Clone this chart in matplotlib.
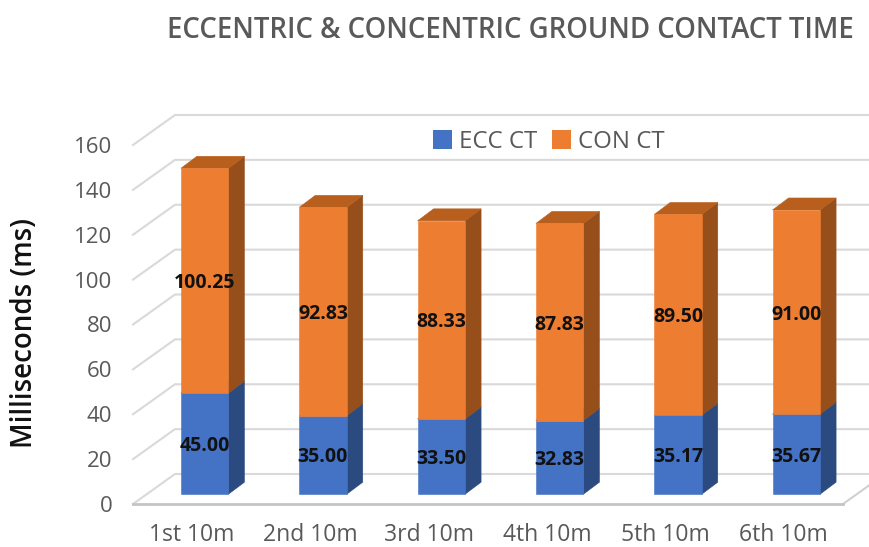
import matplotlib
matplotlib.use("Agg")
import matplotlib.pyplot as plt
from matplotlib.patches import Polygon, Patch

categories = ["1st 10m", "2nd 10m", "3rd 10m", "4th 10m", "5th 10m", "6th 10m"]
ecc_ct = [45.00, 35.00, 33.50, 32.83, 35.17, 35.67]
con_ct = [100.25, 92.83, 88.33, 87.83, 89.50, 91.00]
y_ticks = [0, 20, 40, 60, 80, 100, 120, 140, 160]
title = "ECCENTRIC & CONCENTRIC GROUND CONTACT TIME"
y_label = "Milliseconds (ms)"
series_names = ["ECC CT", "CON CT"]

FONT = "Open Sans"
W, H = 870, 547
fig = plt.figure(figsize=(W / 100, H / 100), dpi=100)
L, R, B, T = 133, 843, 504, 145
ax = fig.add_axes([L / W, (H - B) / H, (R - L) / W, (B - T) / H])
ax.set_xlim(-0.5, 5.5)
ax.set_ylim(0, 160)
for s in ax.spines.values():
    s.set_visible(False)

px_x = (R - L) / 6
px_y = (B - T) / 160
wall_dx, wall_dy = 42 / px_x, 30 / px_y
bar_dx, bar_dy = 16 / px_x, 12 / px_y
bar_shift_x, bar_shift_y = 12.5 / px_x, 9.8 / px_y
bar_w = 47.5 / px_x
label_drop = 2.5 / px_y

grid_c = "#d9d9d9"
for t in y_ticks:
    ax.plot([-0.5, -0.5 + wall_dx, 5.5 + wall_dx], [t, t + wall_dy, t + wall_dy],
            color=grid_c, lw=1.5, clip_on=False, zorder=1, solid_joinstyle="miter")
ax.plot([5.5, 5.5 + wall_dx], [0, wall_dy], color="#d0d0d0", lw=1.5, clip_on=False, zorder=1)
ax.plot([-0.5, 5.5], [0, 0], color="#c4c4c4", lw=2, clip_on=False, zorder=1.5)

def box(x, y0, y1, front, side, top, z):
    xl, xr = x - bar_w / 2, x + bar_w / 2
    ax.add_patch(Polygon([(xr, y0), (xr + bar_dx, y0 + bar_dy), (xr + bar_dx, y1 + bar_dy), (xr, y1)],
                         fc=side, ec=side, lw=0.4, clip_on=False, zorder=z))
    ax.add_patch(Polygon([(xl, y1), (xr, y1), (xr + bar_dx, y1 + bar_dy), (xl + bar_dx, y1 + bar_dy)],
                         fc=top, ec=top, lw=0.4, clip_on=False, zorder=z))
    ax.add_patch(Polygon([(xl, y0), (xr, y0), (xr, y1), (xl, y1)],
                         fc=front, ec=front, lw=0.4, clip_on=False, zorder=z + 0.1))

blue = ("#4472C4", "#2A4A80", "#335A9C")
orange = ("#ED7D31", "#964F1B", "#B85F1E")
for i, (e, c) in enumerate(zip(ecc_ct, con_ct)):
    x = i + bar_shift_x
    box(x, bar_shift_y, bar_shift_y + e, *blue, 2)
    box(x, bar_shift_y + e, bar_shift_y + e + c, *orange, 3)
    ax.text(x, bar_shift_y + e / 2 - label_drop, f"{e:.2f}", ha="center", va="center", fontsize=14,
            fontweight="bold", family=FONT, color="#111111", zorder=6)
    ax.text(x, bar_shift_y + e + c / 2 - label_drop, f"{c:.2f}", ha="center", va="center", fontsize=14,
            fontweight="bold", family=FONT, color="#111111", zorder=6)

ax.set_yticks(y_ticks)
ax.set_xticks(range(6))
ax.set_xticklabels(categories, family=FONT, fontsize=16.5, color="#595959")
ax.tick_params(axis="x", length=0, pad=14)
ax.tick_params(axis="y", length=0, pad=15)
for lab in ax.get_yticklabels():
    lab.set_family(FONT)
    lab.set_fontsize(16)
    lab.set_color("#595959")

fig.text(25 / W, 1 - 333 / H, y_label, rotation=90, ha="center", va="center",
         family=FONT, fontsize=20, fontweight="semibold", color="#111111")
fig.text(510 / W, 1 - 31 / H, title, ha="center", va="center", family=FONT,
         fontsize=19.8, fontweight="semibold", color="#595959")

handles = [Patch(fc=blue[0], ec="none"), Patch(fc=orange[0], ec="none")]
leg = ax.legend(handles, series_names, loc="center", bbox_to_anchor=(549 / W, 1 - 142 / H),
                bbox_transform=fig.transFigure, ncol=2, frameon=False, handlelength=0.8, handleheight=0.8,
                handletextpad=0.3, columnspacing=0.6, prop={"family": FONT, "size": 17.3}, labelcolor="#595959")
leg.set_zorder(7)
fig.savefig("out.png", dpi=100)
